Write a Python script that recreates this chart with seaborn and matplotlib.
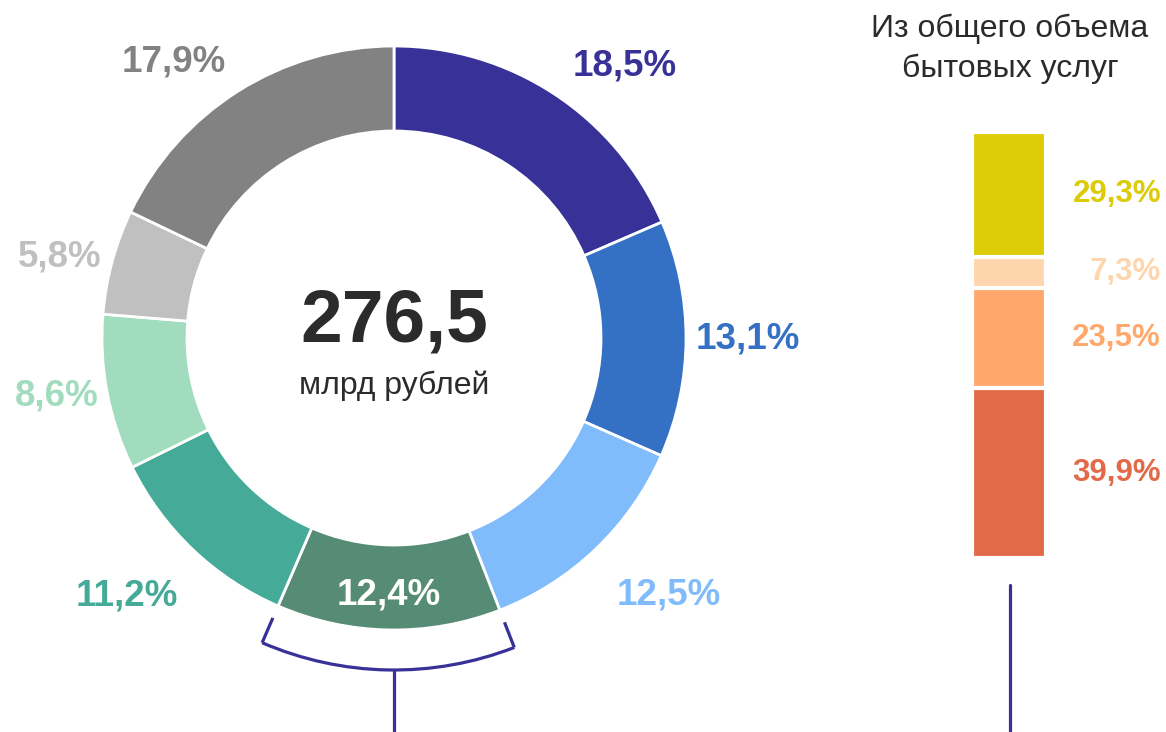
import numpy as np
import pandas as pd
import seaborn as sns
from matplotlib import pyplot as plt
from matplotlib.patches import Arc
import matplotlib.transforms as mtransforms

# доли в общем объеме, %
ring_values = [18.5, 13.1, 12.5, 12.4, 11.2, 8.6, 5.8, 17.9]
ring_labels = ['18,5%', '13,1%', '12,5%', '12,4%', '11,2%', '8,6%', '5,8%', '17,9%']
ring_colors = ['#383298', '#3470c4', '#80bbfb', '#568c76',
               '#45aa97', '#a1dcbe', '#c0c0c0', '#828282']

total_value = '276,5'
total_unit = 'млрд рублей'

# из общего объема бытовых услуг, % (сверху вниз)
bar_values = [29.3, 7.3, 23.5, 39.9]
bar_labels = ['29,3%', '7,3%', '23,5%', '39,9%']
bar_colors = ['#dccb06', '#fed6ad', '#ffa86c', '#e36a48']
bar_title = 'Из общего объема\nбытовых услуг'

sns.set_style('white')
plt.rcParams['font.family'] = ['Liberation Sans', 'DejaVu Sans']

accent = '#383298'
fig = plt.figure(figsize=(11.66, 7.32), dpi=100)
ax = fig.add_axes([0, 0, 1, 1])

cx, cy, R, ring_w = 394, 394, 292, 85
wedges, _ = ax.pie(ring_values, colors=ring_colors, startangle=90, counterclock=False,
                   radius=R, center=(cx, cy), frame=True,
                   wedgeprops=dict(width=ring_w, edgecolor='white', linewidth=2))
ax.set_xlim(0, 1166)
ax.set_ylim(0, 732)
ax.axis('off')

# подписи сегментов
for i, w in enumerate(wedges):
    mid = np.deg2rad((w.theta1 + w.theta2) / 2)
    if i == 3:
        r = R - ring_w / 2 + 8
        ax.text(cx + r * np.cos(mid), cy + r * np.sin(mid), ring_labels[i],
                ha='center', va='center', color='white', fontsize=26.5, fontweight='bold')
        continue
    r = 302 + 28 * abs(np.sin(mid))
    x, y = cx + r * np.cos(mid), cy + r * np.sin(mid)
    if x < cx:
        x += 6
    if np.sin(mid) < -0.5:
        y -= 24
    ax.text(x, y, ring_labels[i], ha='left' if x > cx else 'right', va='center',
            color=ring_colors[i], fontsize=26.5, fontweight='bold')

ax.text(cx, cy + 16, total_value, ha='center', va='center', fontsize=54,
        fontweight='bold', color='#2b2b2b')
ax.text(cx, cy - 48, total_unit, ha='center', va='center', fontsize=23, color='#2b2b2b')

# скобка под выделенным сегментом
w = wedges[3]
rb = 332
ax.add_patch(Arc((cx, cy), 2 * rb, 2 * rb, theta1=w.theta1, theta2=w.theta2,
                 color=accent, lw=2.3))
for t in (w.theta1, w.theta2):
    a = np.deg2rad(t)
    ax.plot([cx + 305 * np.cos(a), cx + rb * np.cos(a)],
            [cy + 305 * np.sin(a), cy + rb * np.sin(a)], color=accent, lw=2.3,
            solid_capstyle='butt')
ax.plot([cx, cx], [cy - rb, 0], color=accent, lw=2.3)

# столбец справа
ax.text(1010, 718, bar_title, ha='center', va='top', fontsize=23,
        color='#2b2b2b', linespacing=1.38)

bax = fig.add_axes([972 / 1166, 174 / 732, 74 / 1166, 426 / 732])
cum = np.cumsum(bar_values[::-1])[::-1]
df = pd.DataFrame({'x': [0] * len(cum), 'cum': cum, 'part': bar_labels})
for k in range(len(cum)):
    sns.barplot(data=df.iloc[[k]], x='x', y='cum', color=bar_colors[k], width=1,
                saturation=1, edgecolor='white', linewidth=3, ax=bax)
bax.set_xlim(-0.5, 0.5)
bax.set_ylim(0, 100)
bax.axis('off')

trans = mtransforms.blended_transform_factory(bax.transAxes, bax.transData)
for k, v in enumerate(bar_values):
    bax.text((1161 - 972) / 74, cum[k] - v / 2, bar_labels[k], transform=trans,
             ha='right', va='center', color=bar_colors[k], fontsize=22.5,
             fontweight='bold', clip_on=False)

ax.plot([1010, 1010], [147, 0], color=accent, lw=2.3)

fig.savefig('out.png', dpi=100)
